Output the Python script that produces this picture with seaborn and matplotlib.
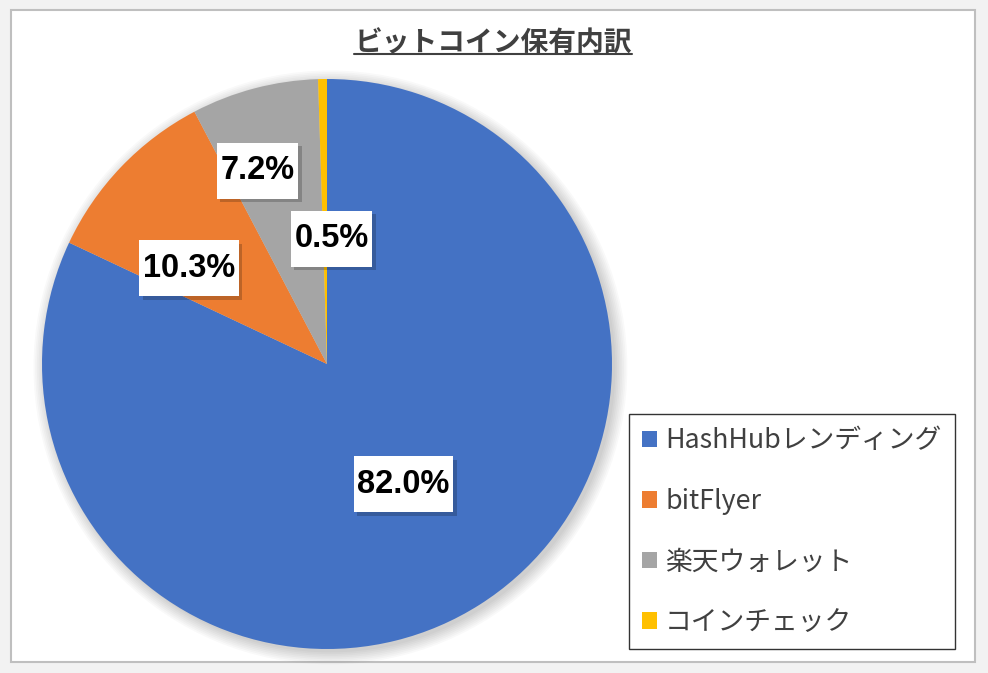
import matplotlib
matplotlib.use("Agg")
import numpy as np
import matplotlib.pyplot as plt
import matplotlib.patheffects as pe
import seaborn as sns
from matplotlib.path import Path
from matplotlib.patches import Patch, Rectangle, Circle
from matplotlib.lines import Line2D

# ============================================
# DATA
# ============================================
labels = ["HashHubレンディング", "bitFlyer", "楽天ウォレット", "コインチェック"]
shares = [82.0, 10.3, 7.2, 0.5]
colors = ["#4472C4", "#ED7D31", "#A5A5A5", "#FFC000"]
title = "ビットコイン保有内訳"

# label placement (radius as fraction of pie radius, angle nudge in degrees)
label_r = [0.50, 0.59, 0.72, 0.44]
label_nudge = [0, 9, 5, -3]

sns.set_theme(style="white")
plt.rcParams['font.family'] = ['Noto Sans CJK JP', 'DejaVu Sans']

W, H = 988, 673
fig = plt.figure(figsize=(W / 100, H / 100), dpi=100, facecolor="#F2F2F2")

# chart area
fig.patches.append(Rectangle((11 / W, 1 - 662 / H), (975 - 11) / W, (662 - 10) / H,
                             transform=fig.transFigure, facecolor="white",
                             edgecolor="#BFBFBF", lw=1.5, zorder=-5))

ax = fig.add_axes([42 / W, 1 - 649 / H, 570 / W, 570 / H])
ax.patch.set_alpha(0)

# soft shadow under the pie
for i in range(8):
    ax.add_patch(Circle((0.012, -0.012), 1.0 + 0.006 * i, color="black",
                        alpha=0.022, lw=0, zorder=0, clip_on=False))

wedges, _, autotexts = ax.pie(
    shares, colors=colors, startangle=90, counterclock=False,
    autopct="%.1f%%", wedgeprops={"linewidth": 0, "zorder": 1},
)
ax.set_xlim(-1, 1)
ax.set_ylim(-1, 1)
ax.set_aspect("equal")


def label_box(x0, y0, width, height, mutation_size):
    px = 0.11 * mutation_size
    py = 0.38 * mutation_size
    verts = [(x0 - px, y0 - py), (x0 + width + px, y0 - py),
             (x0 + width + px, y0 + height + py), (x0 - px, y0 + height + py),
             (x0 - px, y0 - py)]
    codes = [Path.MOVETO, Path.LINETO, Path.LINETO, Path.LINETO, Path.CLOSEPOLY]
    return Path(verts, codes)


for w, t, r, d in zip(wedges, autotexts, label_r, label_nudge):
    ang = np.deg2rad((w.theta1 + w.theta2) / 2 + d)
    t.set_position((r * np.cos(ang), r * np.sin(ang)))
    t.set_fontfamily(["Liberation Sans", "DejaVu Sans"])
    t.set_fontweight("bold")
    t.set_fontsize(23.5)
    t.set_color("black")
    t.set_ha("center")
    t.set_va("center")
    t.set_zorder(5)
    t.set_bbox(dict(boxstyle=label_box, facecolor="white", edgecolor="none"))
    t.get_bbox_patch().set_path_effects([
        pe.SimplePatchShadow(offset=(2.5, -2.5), shadow_rgbFace="black", alpha=0.2),
        pe.Normal(),
    ])

# title with underline
tt = fig.text(493 / W, 1 - 43 / H, title, ha="center", va="center",
              fontsize=20, fontweight="bold", color="#404040")

# legend
handles = [Patch(facecolor=c, edgecolor="none") for c in colors]
leg = fig.legend(handles, labels, loc="upper left",
                 bbox_to_anchor=(629 / W, 1 - 414 / H),
                 frameon=True, fancybox=False, edgecolor="black",
                 fontsize=19.3, labelcolor="#404040",
                 handlelength=0.55, handleheight=0.55, handletextpad=0.3,
                 labelspacing=1.25, borderpad=0.5, borderaxespad=0)
leg.get_frame().set_linewidth(1.0)

fig.canvas.draw()
bb = tt.get_window_extent()
fig.add_artist(Line2D([bb.x0 / W, bb.x1 / W], [1 - 54 / H, 1 - 54 / H],
                      transform=fig.transFigure, color="#404040", lw=1.5))

fig.savefig("out.png", dpi=100, facecolor=fig.get_facecolor())
